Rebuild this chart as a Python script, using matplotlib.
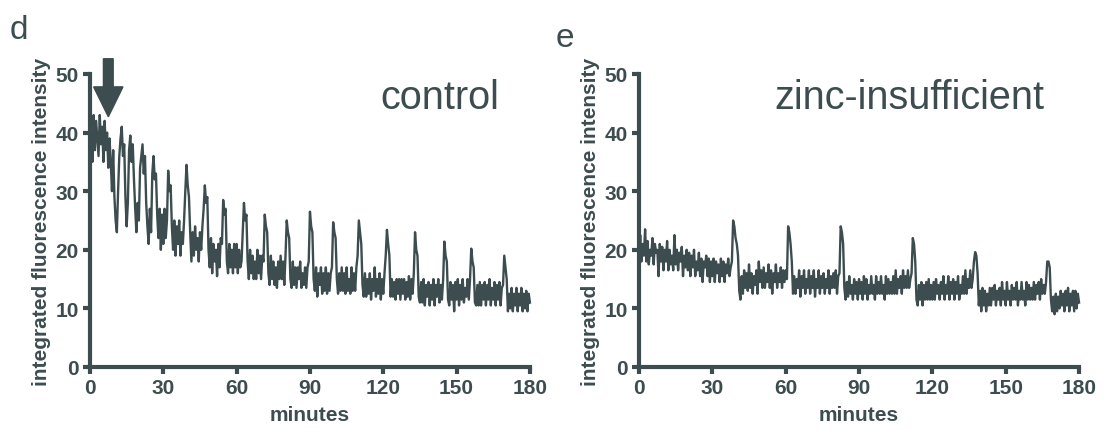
import matplotlib.pyplot as plt
import numpy as np
from matplotlib.patches import FancyArrow

plt.rcParams.update({
    "font.family": "sans-serif", "font.sans-serif": ["Liberation Sans", "DejaVu Sans"],
})

C_TRACE = "#3d4d4f"

# one reading every half minute, 0..180
minutes = np.arange(0, 180.5, 0.5)

control = [
    33, 40, 35, 43, 37, 42, 39, 36, 43, 38, 41, 35, 42, 37, 40, 34, 39, 35, 30, 37,
    29, 25, 23, 30, 36, 39, 41, 36, 38, 29, 24, 28, 37, 39.5, 35, 38, 32, 27, 23, 28,
    25, 34, 36, 38, 33, 36, 28, 24, 21, 27, 23, 33, 36, 32, 33, 26, 22, 27, 20, 26,
    21, 27, 22, 25, 33.5, 30, 31, 24, 20, 25, 19, 24, 21, 25, 19, 23, 21, 25, 30, 34.5,
    31, 29, 23, 18, 23, 19, 24, 20, 22, 18, 23, 20, 24, 27, 31, 28, 29, 20, 17, 22,
    16, 21, 18, 20, 15.5, 21, 17, 22, 21, 28.5, 26, 27, 18, 16, 21, 17, 20, 16, 21, 17,
    21, 16, 20, 17, 18, 23, 28, 25, 26, 18, 15, 20, 16, 19, 15, 18, 15, 20, 16, 19,
    15, 19, 18, 26, 24, 23, 16, 14, 19, 15, 18, 14, 17, 13.5, 18, 15, 19, 15, 18, 14,
    19, 25, 23, 22, 15, 13.5, 18, 14, 17, 13.5, 17, 15, 18, 13.5, 16, 14, 17, 13.5, 17, 18,
    26.5, 24, 23, 15, 13, 17, 12, 16, 14, 17, 12.5, 16, 13, 17, 12.5, 16, 13, 16, 17, 24.7,
    23, 22, 15, 12.5, 16, 13, 17, 13, 16, 12.5, 17, 13, 15, 12.5, 17, 13, 16, 13, 17, 19,
    25, 23, 21, 14, 12, 16, 12, 15, 12.5, 16, 11.5, 15, 13, 17, 12, 15, 12.5, 16, 11.5, 15,
    12.5, 16, 19, 23.4, 21, 19, 12, 15, 12, 14.5, 11.5, 15, 12.5, 15, 11.5, 15, 12.5, 15, 11.5, 14.5,
    12, 15.5, 11.5, 15, 12.5, 16, 23, 20, 19, 12, 11, 14.5, 11, 15, 10.5, 14, 12, 14.5, 10.5, 14,
    11.5, 15, 10.5, 14, 12, 15, 11, 14, 11.5, 15, 21.4, 19, 18, 11.5, 10.5, 14.5, 11.5, 14, 9.5, 14.5,
    11.5, 15, 10.5, 14, 11.5, 15, 11, 13.5, 12, 15, 11.5, 15, 20.2, 18, 17, 11, 10.5, 14, 10.5, 14.5,
    10.5, 14, 11.5, 14.5, 10.5, 14, 11.5, 15, 10.5, 13.5, 11.5, 14.5, 10.5, 14, 11.5, 14.5, 10.5, 13.5, 14, 19,
    17, 15, 9.5, 12.5, 10, 13.5, 9.5, 12.5, 10.5, 13.5, 9.5, 12.5, 10.5, 13.5, 9.5, 12.5, 10, 13, 9.5, 12.5,
    11,
]

zinc = [
    19, 22.5, 18, 21, 19, 23.5, 18, 21.5, 17.5, 20, 19, 22, 17.5, 21, 19.5, 20, 15.5, 21, 18, 20.5,
    16.5, 20, 18, 21.5, 16.5, 20, 17.5, 19, 16.5, 22.5, 17.5, 20, 16.5, 19.5, 18, 20.5, 15.5, 19, 17, 20,
    16.5, 19.5, 15.5, 19, 17, 20, 15.5, 18, 16.5, 19.5, 15.5, 18.5, 14.5, 18, 17, 19, 15.5, 18.5, 14.5, 18,
    15.5, 18.5, 14.5, 18, 16, 17.5, 14.5, 18.5, 15.5, 18, 14.5, 17.5, 16, 18.5, 15.5, 17, 18, 25, 24, 22,
    21, 19, 13, 11.5, 15.5, 12.5, 16.5, 13.5, 16, 13, 17.5, 13.5, 16, 12.5, 15.5, 14, 16.5, 12.5, 18, 14.5,
    16.5, 13.5, 17, 13.5, 16, 14.5, 17.5, 13.5, 16.5, 12.5, 16, 14.5, 17.5, 13.5, 16, 14.5, 17, 13.5, 16.5, 14.5,
    16.5, 15, 24, 23, 21, 18, 12.5, 15.5, 12.5, 15, 13.5, 16.5, 12, 15.5, 13.5, 16.5, 12.5, 15, 13.5, 16.5,
    12.5, 15.5, 13.5, 16.5, 12, 15, 13.5, 16.5, 12.5, 15.5, 13.5, 16, 12.5, 15, 13.5, 16.5, 12.5, 15.5, 13.5, 16,
    13.5, 16.5, 12.5, 15.5, 16, 24, 23, 21, 13.5, 11.5, 14.5, 12, 15.5, 12.5, 14, 11.5, 15, 12.5, 14.5, 11.5,
    15, 12.5, 14.5, 11.5, 15.5, 12.5, 15, 11.5, 14, 12.5, 15.5, 12.5, 14, 11.5, 15.5, 12.5, 14.5, 12.5, 15.5, 12.5,
    14, 11.5, 15.5, 12.5, 15, 12.5, 14.5, 12.5, 15.5, 12.5, 16.5, 12.5, 15, 13.5, 15.5, 12.5, 16.5, 13.5, 15.5, 13.5,
    16.5, 13.5, 15, 16, 22, 21, 18, 11.5, 10.5, 14, 11.5, 14.5, 10.5, 14, 11.5, 14.5, 11.5, 15, 11.5, 14,
    11.5, 14.5, 11.5, 15, 12.5, 14, 11.5, 14.5, 12.5, 15.5, 11.5, 14, 12.5, 15.5, 11.5, 14.5, 12.5, 15, 11.5, 14.5,
    12.5, 15.5, 11.5, 14, 12.5, 15.5, 12.5, 16.5, 12.5, 15, 13.5, 16.5, 13.5, 15, 18, 19.6, 19, 16, 10.5, 13,
    9.5, 13.5, 10.5, 13, 9.5, 12.5, 10.5, 13.5, 10.5, 13.5, 11.5, 14, 10.5, 13, 11.5, 13.5, 10.5, 14.5, 11.5, 13,
    10.5, 14.5, 11.5, 13, 10.5, 14, 11.5, 13.5, 11.5, 14.5, 10.5, 13, 11.5, 14.5, 11.5, 13, 10.5, 14.5, 11.5, 14,
    11.5, 13.5, 11.5, 14.5, 11.5, 14, 12.5, 14.5, 11.5, 15, 12.5, 14, 12.5, 14.5, 18, 18, 17, 11.5, 9.5, 12,
    9, 12.5, 9.5, 12, 10, 13, 10.5, 12.5, 9.5, 13, 10.5, 13.5, 9.5, 12.5, 10.5, 13, 9.5, 13, 10, 12.5,
    11,
]

xticks = [0, 30, 60, 90, 120, 150, 180]
yticks = [0, 10, 20, 30, 40, 50]


def style_axis(ax):
    for s in ("top", "right"):
        ax.spines[s].set_visible(False)
    for s in ("left", "bottom"):
        ax.spines[s].set_linewidth(3)
        ax.spines[s].set_color(C_TRACE)
    ax.set_xlim(0, 180)
    ax.set_ylim(0, 50)
    ax.set_xticks(xticks)
    ax.set_yticks(yticks)
    ax.tick_params(width=3, length=5, color=C_TRACE, labelcolor=C_TRACE, labelsize=15, pad=3)
    for lab in ax.get_xticklabels() + ax.get_yticklabels():
        lab.set_fontweight("bold")
    ax.set_xlabel("minutes", fontsize=15, fontweight="bold", color=C_TRACE, labelpad=6)
    ax.set_ylabel("integrated fluorescence intensity", fontsize=15, fontweight="bold",
                  color=C_TRACE, labelpad=3)


fig = plt.figure(figsize=(11.04, 4.31), dpi=100)
ax1 = fig.add_axes([0.0815, 0.1462, 0.3985, 0.6798])
ax2 = fig.add_axes([0.5788, 0.1462, 0.3986, 0.6798])

ax1.plot(minutes, control, color=C_TRACE, lw=1.7, clip_on=False)
ax2.plot(minutes, zinc, color=C_TRACE, lw=1.7, clip_on=False)
for ax in (ax1, ax2):
    style_axis(ax)

# stimulus arrow
ax1.add_patch(FancyArrow(7.5, 52.6, 0, -9.9, width=4, head_width=12, head_length=5.1,
                         length_includes_head=True, color=C_TRACE, clip_on=False))

ax1.text(0.93, 0.92, "control", transform=ax1.transAxes, ha="right", va="center",
         fontsize=28.5, color=C_TRACE)
ax2.text(0.614, 0.92, "zinc-insufficient", transform=ax2.transAxes, ha="center", va="center",
         fontsize=28.5, color=C_TRACE)
fig.text(0.009, 0.93, "d", fontsize=24, color=C_TRACE, va="center")
fig.text(0.503, 0.91, "e", fontsize=24, color=C_TRACE, va="center")

fig.savefig("out.png", dpi=100)
